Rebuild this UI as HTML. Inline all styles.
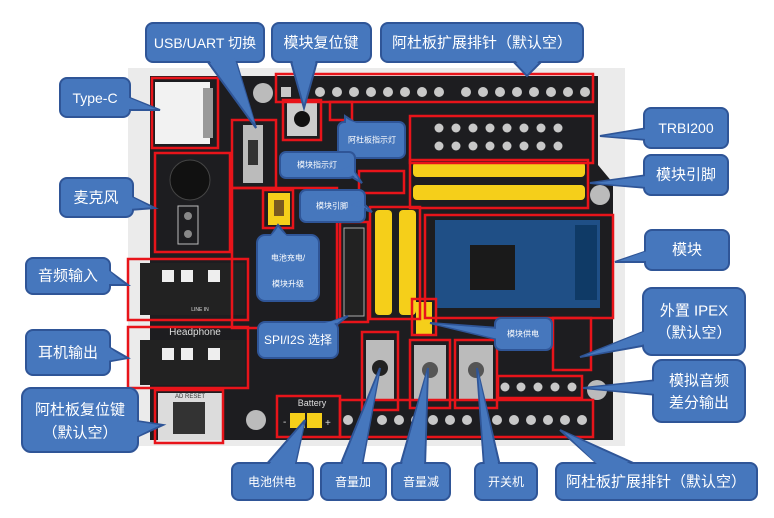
<!DOCTYPE html>
<html><head><meta charset="utf-8"><style>
body{margin:0;background:#fff;}
svg{display:block;font-family:"Liberation Sans","Noto Sans CJK SC",sans-serif;}
.b{fill:#4677bd;stroke:#2f5597;stroke-width:2;}
.tf{fill:#4677bd;}
.r{fill:none;stroke:#e8141a;stroke-width:2.5;}
.w{fill:#fff;text-anchor:middle;dominant-baseline:central;}
.p{fill:#c8c8c8;}
.y{fill:#f5cf1a;}
</style></head><body>
<svg width="774" height="518" viewBox="0 0 774 518" xmlns="http://www.w3.org/2000/svg">
<rect x="128" y="68" width="497" height="378" fill="#ebebeb"/>
<polygon points="150,76 598,76 598,165 613,183 613,440 150,440" fill="#1d1d20"/>
<!-- Type-C -->
<rect x="155" y="82" width="55" height="62" fill="#f2f2f2"/>
<rect x="203" y="88" width="10" height="50" fill="#999"/>
<!-- mic -->
<circle cx="190" cy="180" r="20" fill="#111" stroke="#444"/>
<rect x="178" y="206" width="20" height="38" fill="none" stroke="#bbb"/>
<circle cx="188" cy="216" r="4" fill="#888"/><circle cx="188" cy="234" r="4" fill="#888"/>
<!-- jacks -->
<rect x="140" y="263" width="105" height="52" fill="#222"/>
<rect x="162" y="270" width="12" height="12" fill="#eee"/><rect x="181" y="270" width="12" height="12" fill="#eee"/><rect x="208" y="270" width="12" height="12" fill="#eee"/>
<rect x="140" y="340" width="105" height="45" fill="#222"/>
<rect x="162" y="348" width="12" height="12" fill="#eee"/><rect x="181" y="348" width="12" height="12" fill="#eee"/><rect x="208" y="348" width="12" height="12" fill="#eee"/>
<text x="195" y="335" font-size="10" fill="#ddd" text-anchor="middle">Headphone</text>
<text x="200" y="311" font-size="5" fill="#ddd" text-anchor="middle">LINE IN</text>
<!-- AD reset -->
<rect x="158" y="393" width="64" height="47" fill="#dcdcdc"/>
<rect x="173" y="402" width="32" height="32" fill="#333"/>
<text x="190" y="398" font-size="6" fill="#333" text-anchor="middle">AD RESET</text>
<circle cx="256" cy="420" r="10" fill="#bbb"/>
<circle cx="263" cy="93" r="10" fill="#bbb"/>
<circle cx="597" cy="390" r="10" fill="#bbb"/>
<circle cx="600" cy="195" r="10" fill="#bbb"/>
<!-- USB switch -->
<rect x="243" y="125" width="20" height="58" fill="#bbb"/><rect x="248" y="140" width="10" height="25" fill="#333"/>
<!-- reset btn -->
<rect x="287" y="102" width="30" height="34" fill="#ccc"/><circle cx="302" cy="119" r="8" fill="#111"/>
<!-- jumper -->
<rect x="268" y="193" width="22" height="32" class="y"/><rect x="274" y="200" width="10" height="16" fill="#7a5a20"/>
<!-- top header pins -->
<g class="p">
<rect x="281" y="87" width="10" height="10"/>
<circle cx="320" cy="92" r="5"/><circle cx="337" cy="92" r="5"/><circle cx="354" cy="92" r="5"/><circle cx="371" cy="92" r="5"/><circle cx="388" cy="92" r="5"/><circle cx="405" cy="92" r="5"/><circle cx="422" cy="92" r="5"/><circle cx="439" cy="92" r="5"/>
<circle cx="466" cy="92" r="5"/><circle cx="483" cy="92" r="5"/><circle cx="500" cy="92" r="5"/><circle cx="517" cy="92" r="5"/><circle cx="534" cy="92" r="5"/><circle cx="551" cy="92" r="5"/><circle cx="568" cy="92" r="5"/><circle cx="585" cy="92" r="5"/>
</g>
<!-- debug header -->
<g class="p">
<circle cx="439" cy="128" r="4.5"/><circle cx="456" cy="128" r="4.5"/><circle cx="473" cy="128" r="4.5"/><circle cx="490" cy="128" r="4.5"/><circle cx="507" cy="128" r="4.5"/><circle cx="524" cy="128" r="4.5"/><circle cx="541" cy="128" r="4.5"/><circle cx="558" cy="128" r="4.5"/>
<circle cx="439" cy="146" r="4.5"/><circle cx="456" cy="146" r="4.5"/><circle cx="473" cy="146" r="4.5"/><circle cx="490" cy="146" r="4.5"/><circle cx="507" cy="146" r="4.5"/><circle cx="524" cy="146" r="4.5"/><circle cx="541" cy="146" r="4.5"/><circle cx="558" cy="146" r="4.5"/>
</g>
<!-- yellow headers -->
<rect x="413" y="162" width="172" height="15" rx="4" class="y"/>
<rect x="413" y="185" width="172" height="15" rx="4" class="y"/>
<rect x="375" y="210" width="17" height="105" rx="4" class="y"/>
<rect x="399" y="210" width="17" height="105" rx="4" class="y"/>
<!-- module -->
<rect x="435" y="220" width="165" height="88" fill="#1f4f86"/>
<rect x="470" y="245" width="45" height="45" fill="#1a1a1a"/>
<rect x="575" y="225" width="22" height="75" fill="#0f3a66"/>
<!-- module power jumper -->
<rect x="416" y="302" width="16" height="32" class="y"/>
<!-- SPI -->
<rect x="344" y="228" width="20" height="88" fill="#222" stroke="#aaa"/>
<!-- buttons -->
<rect x="366" y="340" width="28" height="60" fill="#bbb"/><circle cx="380" cy="368" r="8" fill="#222"/>
<rect x="414" y="345" width="32" height="55" fill="#bbb"/><circle cx="430" cy="370" r="8" fill="#555"/>
<rect x="459" y="345" width="34" height="55" fill="#bbb"/><circle cx="476" cy="370" r="8" fill="#555"/>
<!-- diff header -->
<g class="p"><circle cx="505" cy="387" r="4.5"/><circle cx="521" cy="387" r="4.5"/><circle cx="538" cy="387" r="4.5"/><circle cx="555" cy="387" r="4.5"/><circle cx="572" cy="387" r="4.5"/></g>
<!-- bottom header -->
<g class="p">
<circle cx="348" cy="420" r="5"/><circle cx="365" cy="420" r="5"/><circle cx="382" cy="420" r="5"/><circle cx="399" cy="420" r="5"/><circle cx="416" cy="420" r="5"/><circle cx="433" cy="420" r="5"/><circle cx="450" cy="420" r="5"/><circle cx="467" cy="420" r="5"/>
<circle cx="497" cy="420" r="5"/><circle cx="514" cy="420" r="5"/><circle cx="531" cy="420" r="5"/><circle cx="548" cy="420" r="5"/><circle cx="565" cy="420" r="5"/><circle cx="582" cy="420" r="5"/>
</g>
<!-- battery -->
<text x="312" y="406" font-size="9" fill="#ddd" text-anchor="middle">Battery</text>
<rect x="290" y="413" width="15" height="15" class="y"/><rect x="307" y="413" width="15" height="15" class="y"/>
<text x="283" y="425" font-size="10" fill="#ddd">-</text><text x="325" y="426" font-size="10" fill="#ddd">+</text>
<!-- red boxes -->
<g class="r">
<rect x="152" y="78" width="66" height="70"/>
<rect x="155" y="153" width="75" height="99"/>
<rect x="128" y="259" width="120" height="61"/>
<rect x="128" y="327" width="120" height="61"/>
<rect x="155" y="390" width="68" height="53"/>
<rect x="232" y="120" width="44" height="68"/>
<rect x="232" y="188" width="105" height="140"/>
<rect x="263" y="190" width="30" height="38"/>
<rect x="276" y="74" width="317" height="28"/>
<rect x="283" y="100" width="38" height="40"/>
<rect x="330" y="102" width="22" height="18"/>
<rect x="359" y="171" width="45" height="22"/>
<rect x="410" y="116" width="183" height="47"/>
<rect x="410" y="160" width="178" height="48"/>
<rect x="340" y="222" width="28" height="100"/>
<rect x="370" y="207" width="50" height="112"/>
<rect x="425" y="215" width="188" height="103"/>
<rect x="412" y="299" width="24" height="36"/>
<rect x="553" y="318" width="38" height="52"/>
<rect x="362" y="332" width="36" height="78"/>
<rect x="410" y="340" width="40" height="68"/>
<rect x="455" y="340" width="42" height="68"/>
<rect x="498" y="376" width="84" height="22"/>
<rect x="277" y="396" width="63" height="41"/>
<rect x="340" y="400" width="253" height="37"/>
</g>
<!-- callouts -->
<g>
<polygon class="b" points="205,58 235,58 256,128"/><rect class="b" x="146" y="23" width="118" height="39" rx="7"/><polygon class="tf" points="206,56 234,56 255,124"/>
<text class="w" x="205" y="43" font-size="14">USB/UART 切换</text>

<polygon class="b" points="290,58 318,58 304,108"/><rect class="b" x="272" y="23" width="99" height="39" rx="7"/><polygon class="tf" points="291,56 317,56 304,104"/>
<text class="w" x="321" y="43" font-size="15">模块复位键</text>

<polygon class="b" points="510,58 545,58 527,76"/><rect class="b" x="381" y="23" width="202" height="39" rx="7"/><polygon class="tf" points="511,56 544,56 527,73"/>
<text class="w" x="482" y="43" font-size="15">阿杜板扩展排针（默认空）</text>

<polygon class="b" points="125,96 125,110 160,110"/><rect class="b" x="60" y="78" width="70" height="39" rx="7"/><polygon class="tf" points="127,97 127,109 156,109"/>
<text class="w" x="95" y="98" font-size="14">Type-C</text>

<polygon class="b" points="128,195 128,210 155,208"/><rect class="b" x="60" y="178" width="73" height="39" rx="7"/><polygon class="tf" points="130,196 130,209 151,207"/>
<text class="w" x="96" y="198" font-size="15">麦克风</text>

<polygon class="b" points="105,268 105,285 128,285"/><rect class="b" x="26" y="258" width="84" height="36" rx="7"/><polygon class="tf" points="107,269 107,284 124,284"/>
<text class="w" x="68" y="276" font-size="15">音频输入</text>

<polygon class="b" points="105,345 105,362 128,358"/><rect class="b" x="26" y="330" width="84" height="45" rx="7"/><polygon class="tf" points="107,346 107,361 124,358"/>
<text class="w" x="68" y="353" font-size="15">耳机输出</text>

<polygon class="b" points="130,420 130,440 163,425"/><rect class="b" x="22" y="388" width="116" height="64" rx="9"/><polygon class="tf" points="132,421 132,439 159,425"/>
<text class="w" x="80" y="410" font-size="15">阿杜板复位键</text><text class="w" x="80" y="433" font-size="15">（默认空）</text>

<polygon class="b" points="265,466 295,466 305,420"/><rect class="b" x="232" y="463" width="81" height="37" rx="7"/><polygon class="tf" points="266,468 294,468 304,424"/>
<text class="w" x="272" y="482" font-size="12">电池供电</text>

<polygon class="b" points="340,466 362,466 380,368"/><rect class="b" x="321" y="463" width="65" height="37" rx="7"/><polygon class="tf" points="341,468 361,468 379,372"/>
<text class="w" x="353" y="482" font-size="12">音量加</text>

<polygon class="b" points="400,466 425,466 428,368"/><rect class="b" x="392" y="463" width="58" height="37" rx="7"/><polygon class="tf" points="401,468 424,468 427,372"/>
<text class="w" x="421" y="482" font-size="12">音量减</text>

<polygon class="b" points="484,466 500,466 477,368"/><rect class="b" x="475" y="463" width="62" height="37" rx="7"/><polygon class="tf" points="485,468 499,468 478,372"/>
<text class="w" x="506" y="482" font-size="12">开关机</text>

<polygon class="b" points="600,466 640,466 560,430"/><rect class="b" x="556" y="463" width="201" height="37" rx="7"/><polygon class="tf" points="601,468 639,468 564,432"/>
<text class="w" x="656" y="482" font-size="15">阿杜板扩展排针（默认空）</text>

<polygon class="b" points="648,128 648,140 600,136"/><rect class="b" x="644" y="108" width="84" height="40" rx="7"/><polygon class="tf" points="646,129 646,139 604,136"/>
<text class="w" x="686" y="128" font-size="14">TRBI200</text>

<polygon class="b" points="648,175 648,188 590,183"/><rect class="b" x="644" y="155" width="84" height="40" rx="7"/><polygon class="tf" points="646,176 646,187 594,183"/>
<text class="w" x="686" y="175" font-size="15">模块引脚</text>

<polygon class="b" points="650,250 650,262 615,262"/><rect class="b" x="645" y="230" width="84" height="40" rx="7"/><polygon class="tf" points="647,251 647,261 619,261"/>
<text class="w" x="687" y="250" font-size="15">模块</text>

<polygon class="b" points="648,330 648,345 580,357"/><rect class="b" x="643" y="288" width="102" height="67" rx="9"/><polygon class="tf" points="646,331 646,344 584,356"/>
<text class="w" x="694" y="311" font-size="15">外置 IPEX</text><text class="w" x="694" y="333" font-size="15">（默认空）</text>

<polygon class="b" points="658,380 658,395 583,388"/><rect class="b" x="653" y="360" width="92" height="62" rx="9"/><polygon class="tf" points="656,381 656,394 587,388"/>
<text class="w" x="699" y="381" font-size="15">模拟音频</text><text class="w" x="699" y="403" font-size="15">差分输出</text>

<polygon class="b" points="345,126 360,126 345,116"/><rect class="b" x="338" y="122" width="67" height="36" rx="6"/><polygon class="tf" points="346,124 359,124 346,119"/>
<text class="w" x="372" y="140" font-size="8">阿杜板指示灯</text>

<polygon class="b" points="340,170 350,165 362,183"/><rect class="b" x="280" y="152" width="75" height="26" rx="6"/><polygon class="tf" points="341,170 350,166 358,178"/>
<text class="w" x="317" y="165" font-size="8">模块指示灯</text>

<polygon class="b" points="350,205 360,200 372,212"/><rect class="b" x="300" y="190" width="65" height="32" rx="6"/><polygon class="tf" points="351,205 360,201 366,208"/>
<text class="w" x="332" y="206" font-size="8">模块引脚</text>

<polygon class="b" points="268,240 290,240 278,225"/><rect class="b" x="257" y="235" width="62" height="66" rx="8"/><polygon class="tf" points="269,238 289,238 278,228"/>
<text class="w" x="288" y="258" font-size="8">电池充电/</text><text class="w" x="288" y="284" font-size="8">模块升级</text>

<polygon class="b" points="320,326 335,326 348,316"/><rect class="b" x="258" y="322" width="80" height="36" rx="7"/><polygon class="tf" points="321,324 334,324 344,318"/>
<text class="w" x="298" y="340" font-size="12">SPI/I2S 选择</text>

<polygon class="b" points="500,328 500,340 430,323"/><rect class="b" x="495" y="318" width="57" height="32" rx="6"/><polygon class="tf" points="498,329 498,339 436,324"/>
<text class="w" x="523" y="334" font-size="8">模块供电</text>
</g>
</svg>
</body></html>
